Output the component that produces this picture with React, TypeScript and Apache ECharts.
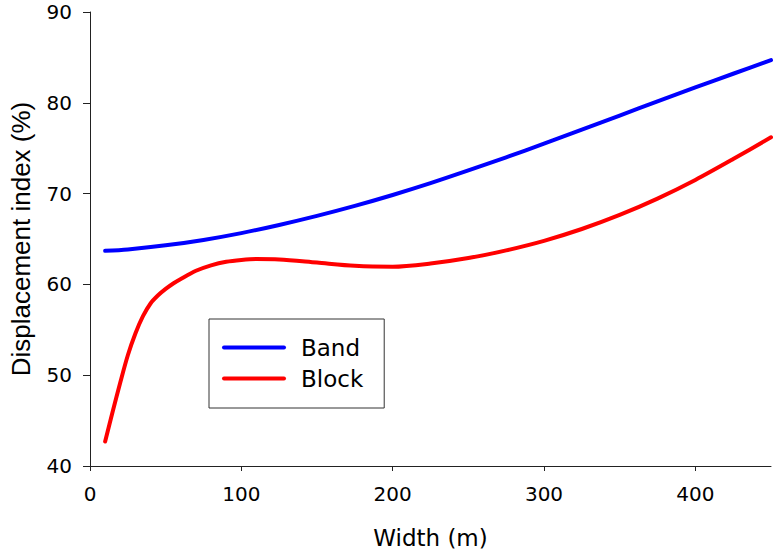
import React, { useEffect, useRef } from "react";
import * as echarts from "echarts";

const bandX = [10, 25, 50, 75, 100, 125, 150, 175, 200, 225, 250, 275, 300, 325, 350, 375, 400, 425, 450];
const bandY = [63.7, 63.85, 64.3, 64.9, 65.65, 66.55, 67.55, 68.65, 69.85, 71.15, 72.55, 74.0, 75.5, 77.05, 78.6, 80.15, 81.7, 83.2, 84.7];

const blockX = [10, 15, 20, 25, 30, 35, 40, 45, 50, 55, 60, 70, 80, 90, 100, 110, 125, 150, 175, 200, 225, 250, 275, 300, 325, 350, 375, 400, 425, 450];
const blockY = [42.7, 46.0, 49.2, 52.2, 54.6, 56.5, 57.9, 58.8, 59.5, 60.1, 60.6, 61.5, 62.1, 62.5, 62.7, 62.8, 62.75, 62.4, 62.05, 61.95, 62.3, 62.9, 63.75, 64.8, 66.1, 67.65, 69.45, 71.5, 73.8, 76.2];

const seriesNames = ["Band", "Block"];
const seriesColors = ["#0000ff", "#ff0000"];

const xTitle = "Width (m)";
const yTitle = "Displacement index (%)";

const hFont = "DejaVu Sans";
const legendIcon = "path://M2,0 L62,0 A2,2 0 0 1 62,4 L2,4 A2,2 0 0 1 2,0 Z";

export default function App() {
  const ref = useRef<HTMLDivElement>(null);
  useEffect(() => {
    if (!ref.current) return;
    const chart = echarts.init(ref.current, null, { renderer: "svg" });
    const toPairs = (xs: number[], ys: number[]) => xs.map((x, i) => [x, ys[i]]);
    chart.setOption({
      animation: false,
      backgroundColor: "#ffffff",
      grid: { left: 90, right: 5, top: 12, bottom: 93, containLabel: false },
      legend: {
        orient: "vertical",
        left: 209,
        top: 319,
        padding: [17, 21, 18, 13],
        itemWidth: 64,
        itemHeight: 24,
        itemGap: 8,
        icon: legendIcon,
        symbolKeepAspect: true,
        borderColor: "#333",
        borderWidth: 1,
        data: seriesNames,
        textStyle: { fontFamily: hFont, fontSize: 23, color: "#000", padding: [0, 0, 0, 10] },
      },
      xAxis: {
        type: "value",
        min: 0,
        max: 450,
        interval: 100,
        name: xTitle,
        nameLocation: "middle",
        nameGap: 60,
        nameTextStyle: { fontFamily: hFont, fontSize: 23, color: "#000" },
        axisLine: { show: true, onZero: false, lineStyle: { color: "#222", width: 1 } },
        axisTick: { show: true, inside: false, length: 5, lineStyle: { color: "#222" } },
        axisLabel: { fontFamily: hFont, fontSize: 20, color: "#000", margin: 18, showMaxLabel: false },
        splitLine: { show: false },
      },
      yAxis: {
        type: "value",
        min: 40,
        max: 90,
        interval: 10,
        name: yTitle,
        nameLocation: "middle",
        nameRotate: 90,
        nameGap: 56,
        nameTextStyle: { fontFamily: "Liberation Sans", fontSize: 26, color: "#000" },
        axisLine: { show: true, onZero: false, lineStyle: { color: "#222", width: 1 } },
        axisTick: { show: true, inside: false, length: 7, lineStyle: { color: "#222" } },
        axisLabel: { fontFamily: hFont, fontSize: 20, color: "#000", margin: 18 },
        splitLine: { show: false },
      },
      series: [
        {
          name: seriesNames[0],
          type: "line",
          data: toPairs(bandX, bandY),
          smooth: 0.3,
          symbol: "none",
          color: seriesColors[0],
          lineStyle: { width: 4, color: seriesColors[0], cap: "round", join: "round" },
        },
        {
          name: seriesNames[1],
          type: "line",
          data: toPairs(blockX, blockY),
          smooth: 0.3,
          symbol: "none",
          color: seriesColors[1],
          lineStyle: { width: 4, color: seriesColors[1], cap: "round", join: "round" },
        },
      ],
    });
    return () => chart.dispose();
  }, []);
  return <div ref={ref} style={{ width: 776, height: 559, position: "fixed", left: 0, top: 0 }} />;
}
